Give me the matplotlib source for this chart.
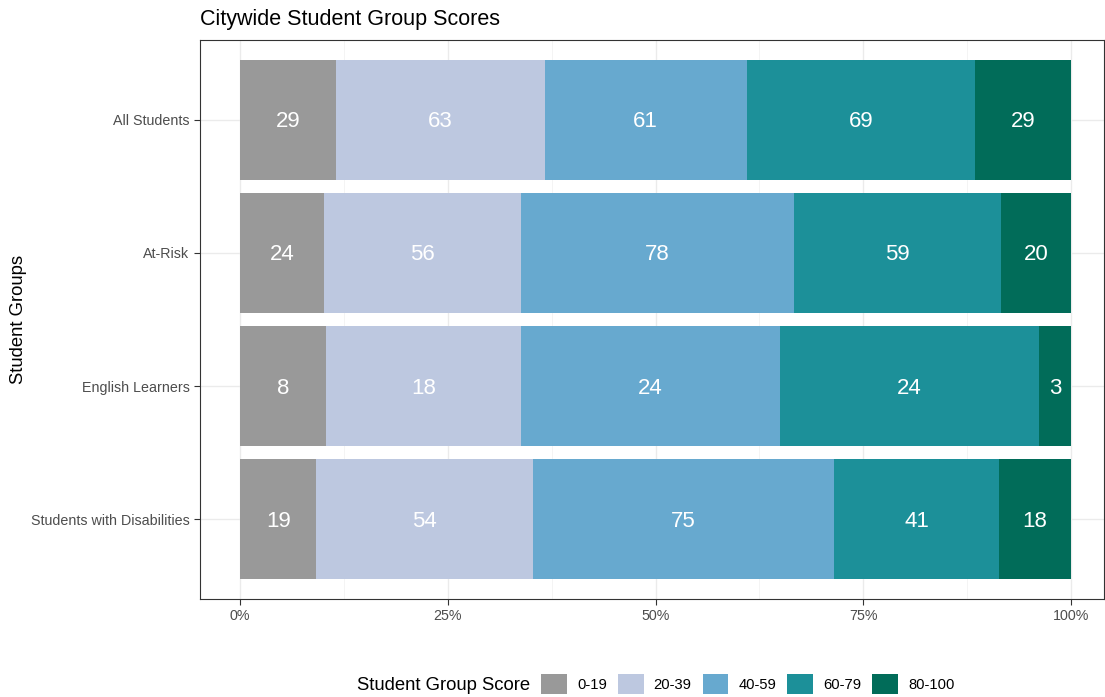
import numpy as np
import matplotlib.pyplot as plt
from matplotlib.patches import Patch
from matplotlib.ticker import MultipleLocator, PercentFormatter

plt.rcParams['font.family'] = ['Liberation Sans', 'DejaVu Sans']

# data
groups = ['All Students', 'At-Risk', 'English Learners', 'Students with Disabilities']
bands = ['0-19', '20-39', '40-59', '60-79', '80-100']
counts = {
    'All Students': [29, 63, 61, 69, 29],
    'At-Risk': [24, 56, 78, 59, 20],
    'English Learners': [8, 18, 24, 24, 3],
    'Students with Disabilities': [19, 54, 75, 41, 18],
}
colors = ['#999999', '#BDC8E0', '#67A9CF', '#1C9099', '#016C59']

fig = plt.figure(figsize=(11.05, 6.97), dpi=100)
ax = fig.add_axes([200 / 1105, 1 - 599 / 697, 904 / 1105, 559 / 697])

for i, g in enumerate(groups):
    vals = np.array(counts[g], dtype=float)
    share = vals / vals.sum()
    left = 0.0
    for j, s in enumerate(share):
        ax.barh(i, s, left=left, height=0.9, color=colors[j], zorder=2)
        # small downward nudge so the digits sit in the middle like ggplot
        ax.text(left + s / 2, i + 0.015, str(int(vals[j])), ha='center', va='center',
                color='white', fontsize=16, zorder=3)
        left += s

ax.set_xlim(-40 / 831, 864 / 831)
ax.set_ylim(len(groups) - 0.4, -0.6)
ax.set_yticks(range(len(groups)))
ax.set_yticklabels(groups, fontsize=10.3, color='#4D4D4D')
ax.xaxis.set_major_locator(MultipleLocator(0.25))
ax.xaxis.set_minor_locator(MultipleLocator(0.125))
ax.xaxis.set_major_formatter(PercentFormatter(1.0, decimals=0))
ax.tick_params(axis='x', labelsize=10.3, labelcolor='#4D4D4D', color='#333333', length=4)
ax.tick_params(axis='y', color='#333333', length=4)
ax.tick_params(axis='x', which='minor', length=0)
ax.grid(True, which='major', color='#EBEBEB', linewidth=1.0, zorder=0)
ax.grid(True, which='minor', axis='x', color='#F3F3F3', linewidth=0.6, zorder=0)
for sp in ax.spines.values():
    sp.set_color('#333333')
    sp.set_linewidth(0.8)

ax.set_ylabel('Student Groups', fontsize=13.3)
ax.yaxis.set_label_coords(-173 / 904, 0.5)
fig.text(200 / 1105, 1 - 19 / 697, 'Citywide Student Group Scores', fontsize=15.5,
         ha='left', va='center')

# legend at the bottom, title inline with the keys
fig.text(357 / 1105, 1 - 685 / 697, 'Student Group Score', fontsize=13.3,
         ha='left', va='center')
handles = [Patch(facecolor=c, edgecolor='none') for c in colors]
fig.legend(handles, bands, loc='center left', bbox_to_anchor=(541 / 1105, 1 - 684 / 697),
           ncol=5, frameon=False, fontsize=10.6, handlelength=1.76, handleheight=1.76,
           columnspacing=0.75, handletextpad=0.68, borderpad=0, borderaxespad=0)

fig.savefig('out.png', dpi=100)
